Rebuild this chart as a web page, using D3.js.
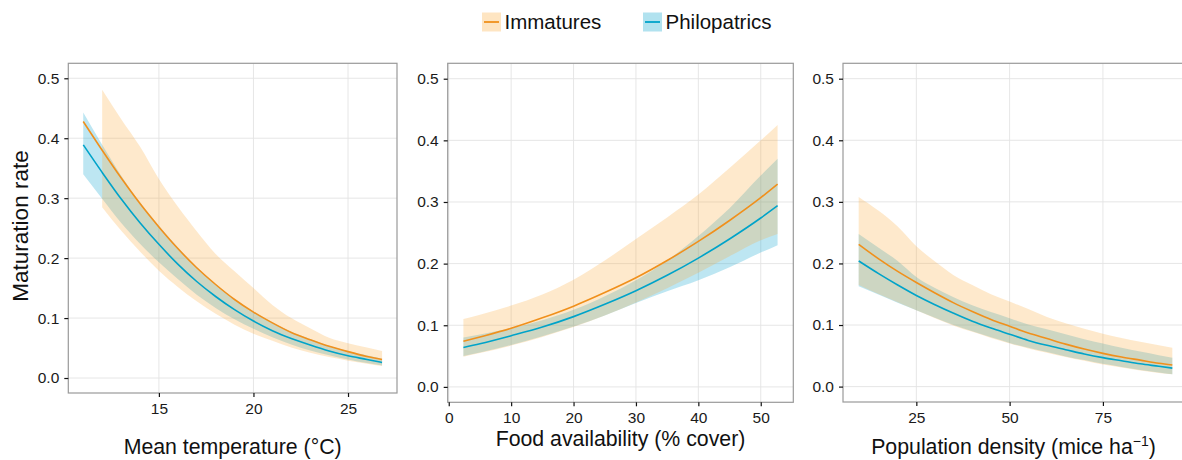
<!DOCTYPE html>
<html>
<head>
<meta charset="utf-8">
<script src="https://cdn.jsdelivr.net/npm/d3@7"></script>
<style>
body { margin: 0; background: #fff; }
svg { display: block; font-family: "Liberation Sans", Arial, Helvetica, sans-serif; }
</style>
</head>
<body>
<svg id="chart" width="1182" height="460"></svg>
<script>
// values
var seriesNames = ["Immatures", "Philopatrics"];
var rateTicks = [0, 0.1, 0.2, 0.3, 0.4, 0.5];

// mean temperature panel
var tempX      = [11, 12, 13, 14, 15, 16, 17, 18, 19, 20, 21, 22, 23, 24, 25, 26, 26.8];
var tempImmFit = [0.428, 0.380, 0.334, 0.291, 0.252, 0.216, 0.184, 0.156, 0.131, 0.110, 0.092, 0.076, 0.064, 0.053, 0.044, 0.036, 0.031];
var tempImmHi  = [null, 0.481, 0.432, 0.386, 0.332, 0.286, 0.245, 0.207, 0.178, 0.150, 0.122, 0.100, 0.083, 0.067, 0.058, 0.051, 0.045];
var tempImmLo  = [null, 0.285, 0.246, 0.211, 0.179, 0.152, 0.128, 0.107, 0.089, 0.074, 0.062, 0.051, 0.042, 0.035, 0.029, 0.024, 0.020];
var tempPhiFit = [0.389, 0.343, 0.299, 0.259, 0.223, 0.190, 0.161, 0.136, 0.114, 0.095, 0.079, 0.066, 0.055, 0.045, 0.037, 0.031, 0.026];
var tempPhiHi  = [0.443, 0.389, 0.338, 0.293, 0.254, 0.218, 0.185, 0.157, 0.132, 0.111, 0.093, 0.077, 0.065, 0.054, 0.045, 0.038, 0.032];
var tempPhiLo  = [0.340, 0.299, 0.259, 0.224, 0.193, 0.165, 0.139, 0.117, 0.098, 0.082, 0.068, 0.056, 0.046, 0.038, 0.031, 0.025, 0.021];
var tempTicks  = [15, 20, 25];

// food availability panel
var foodX      = [2.35, 5, 10, 15, 20, 25, 30, 35, 40, 45, 50, 52.7];
var foodImmFit = [0.074, 0.081, 0.095, 0.112, 0.131, 0.153, 0.177, 0.205, 0.236, 0.270, 0.307, 0.329];
var foodImmHi  = [0.110, 0.117, 0.132, 0.150, 0.174, 0.205, 0.240, 0.275, 0.312, 0.355, 0.400, 0.425];
var foodImmLo  = [0.049, 0.055, 0.067, 0.081, 0.097, 0.116, 0.137, 0.160, 0.185, 0.212, 0.238, 0.248];
var foodPhiFit = [0.064, 0.070, 0.083, 0.097, 0.114, 0.134, 0.156, 0.181, 0.209, 0.240, 0.274, 0.294];
var foodPhiHi  = [0.080, 0.085, 0.095, 0.108, 0.125, 0.147, 0.173, 0.205, 0.245, 0.290, 0.343, 0.370];
var foodPhiLo  = [0.050, 0.056, 0.068, 0.082, 0.098, 0.116, 0.136, 0.155, 0.173, 0.194, 0.218, 0.230];
var foodTicks  = [0, 10, 20, 30, 40, 50];

// population density panel
var densX      = [9.55, 15, 20, 25, 30, 35, 40, 45, 50, 55, 60, 65, 70, 75, 80, 85, 90, 93.6];
var densImmFit = [0.231, 0.207, 0.187, 0.169, 0.152, 0.136, 0.122, 0.109, 0.098, 0.087, 0.078, 0.069, 0.061, 0.054, 0.048, 0.043, 0.038, 0.035];
var densImmHi  = [0.308, 0.285, 0.260, 0.228, 0.203, 0.181, 0.165, 0.150, 0.138, 0.126, 0.113, 0.103, 0.094, 0.086, 0.079, 0.073, 0.067, 0.063];
var densImmLo  = [0.165, 0.150, 0.137, 0.124, 0.111, 0.099, 0.089, 0.079, 0.070, 0.062, 0.055, 0.048, 0.042, 0.036, 0.031, 0.026, 0.022, 0.020];
var densPhiFit = [0.204, 0.183, 0.165, 0.148, 0.133, 0.119, 0.106, 0.095, 0.085, 0.075, 0.067, 0.060, 0.053, 0.047, 0.042, 0.037, 0.033, 0.030];
var densPhiHi  = [0.248, 0.225, 0.204, 0.178, 0.160, 0.145, 0.132, 0.121, 0.111, 0.101, 0.093, 0.085, 0.077, 0.070, 0.063, 0.057, 0.051, 0.047];
var densPhiLo  = [0.163, 0.149, 0.136, 0.124, 0.112, 0.100, 0.090, 0.080, 0.071, 0.063, 0.056, 0.049, 0.043, 0.037, 0.032, 0.027, 0.023, 0.020];
var densTicks  = [25, 50, 75];

// colours
var lineColor = { "Immatures": "#f0901c", "Philopatrics": "#00a3c9" };
var bandColor = { "Immatures": "#fbab3a", "Philopatrics": "#12a6cf" };
var bandAlpha = { "Immatures": 0.26, "Philopatrics": 0.28 };

var svg = d3.select("#chart");

// ggplot style 5% expansion
function expand(ext) {
    var r = ext[1] - ext[0];
    return [ext[0] - r * 0.05, ext[1] + r * 0.05];
}

function zipRows(xs, fit, lo, hi) {
    return xs.map(function (x, i) {
        return { x: x, fit: fit[i], lo: lo[i], hi: hi[i] };
    });
}

var panels = [
    { id: "p1", left: 68.3, right: 397, top: 63.3, bottom: 393, titleY: 454,
      x: tempX, ticks: tempTicks, title: "Mean temperature (°C)",
      series: {
        "Immatures": zipRows(tempX, tempImmFit, tempImmLo, tempImmHi),
        "Philopatrics": zipRows(tempX, tempPhiFit, tempPhiLo, tempPhiHi) } },
    { id: "p2", left: 447.7, right: 793.3, top: 63.3, bottom: 402.3, titleY: 446,
      x: foodX, ticks: foodTicks, title: "Food availability (% cover)",
      series: {
        "Immatures": zipRows(foodX, foodImmFit, foodImmLo, foodImmHi),
        "Philopatrics": zipRows(foodX, foodPhiFit, foodPhiLo, foodPhiHi) } },
    { id: "p3", left: 843, right: 1188, top: 63.3, bottom: 402, titleY: 454,
      x: densX, ticks: densTicks, title: null,
      series: {
        "Immatures": zipRows(densX, densImmFit, densImmLo, densImmHi),
        "Philopatrics": zipRows(densX, densPhiFit, densPhiLo, densPhiHi) } }
];

panels.forEach(function (p) {
    var x = d3.scaleLinear().domain(expand(d3.extent(p.x))).range([p.left, p.right]);
    var y = d3.scaleLinear().domain(expand([0, 0.5])).range([p.bottom, p.top]);
    var g = svg.append("g").attr("class", "panel " + p.id);

    g.append("clipPath").attr("id", "clip-" + p.id)
        .append("rect")
        .attr("x", p.left).attr("y", p.top)
        .attr("width", p.right - p.left).attr("height", p.bottom - p.top);

    //gridlines
    g.selectAll(".gy").data(rateTicks).enter().append("line")
        .attr("x1", p.left).attr("x2", p.right)
        .attr("y1", function (d) { return y(d); })
        .attr("y2", function (d) { return y(d); })
        .attr("stroke", "#e3e3e3").attr("stroke-width", 0.9);
    g.selectAll(".gx").data(p.ticks).enter().append("line")
        .attr("y1", p.top).attr("y2", p.bottom)
        .attr("x1", function (d) { return x(d); })
        .attr("x2", function (d) { return x(d); })
        .attr("stroke", "#e3e3e3").attr("stroke-width", 0.9);

    var plot = g.append("g").attr("clip-path", "url(#clip-" + p.id + ")");

    var area = d3.area()
        .defined(function (d) { return d.lo != null && d.hi != null; })
        .x(function (d) { return x(d.x); })
        .y0(function (d) { return y(d.lo); })
        .y1(function (d) { return y(d.hi); })
        .curve(d3.curveMonotoneX);

    var line = d3.line()
        .x(function (d) { return x(d.x); })
        .y(function (d) { return y(d.fit); })
        .curve(d3.curveMonotoneX);

    // philopatric band first, immature band laid over it
    ["Philopatrics", "Immatures"].forEach(function (s) {
        plot.append("path")
            .datum(p.series[s])
            .attr("d", area)
            .attr("fill", bandColor[s])
            .attr("fill-opacity", bandAlpha[s]);
    });
    ["Philopatrics", "Immatures"].forEach(function (s) {
        plot.append("path")
            .datum(p.series[s])
            .attr("d", line)
            .attr("fill", "none")
            .attr("stroke", lineColor[s])
            .attr("stroke-width", 1.6);
    });

    g.append("rect")
        .attr("x", p.left).attr("y", p.top)
        .attr("width", p.right - p.left).attr("height", p.bottom - p.top)
        .attr("fill", "none").attr("stroke", "#9a9a9a").attr("stroke-width", 1.2);

    var yAxis = g.append("g")
        .attr("transform", "translate(" + p.left + ",0)")
        .call(d3.axisLeft(y).tickValues(rateTicks).tickSize(4).tickPadding(5).tickFormat(d3.format(".1f")));
    var xAxis = g.append("g")
        .attr("transform", "translate(0," + p.bottom + ")")
        .call(d3.axisBottom(x).tickValues(p.ticks).tickSize(4).tickPadding(6).tickFormat(d3.format("d")));

    [yAxis, xAxis].forEach(function (a) {
        a.select(".domain").remove();
        a.selectAll(".tick line").attr("stroke", "#111").attr("stroke-width", 1.2);
        a.selectAll(".tick text")
            .attr("fill", "#1a1a1a")
            .style("font-size", "15.5px")
            .style("font-family", "Liberation Sans, Arial, sans-serif");
    });

    var cx = (p.left + Math.min(p.right, 1182)) / 2;
    if (p.id == "p3") cx = (p.left + p.right) / 2 - 2;
    var t = g.append("text")
        .attr("x", cx).attr("y", p.titleY)
        .attr("text-anchor", "middle")
        .attr("fill", "#111")
        .style("font-size", "21.3px");
    if (p.title) {
        t.text(p.title);
    } else {
        t.append("tspan").text("Population density (mice ha");
        t.append("tspan").attr("dy", -8).style("font-size", "14px").text("\u22121");
        t.append("tspan").attr("dy", 8).text(")");
    }
});

// y axis title
svg.append("text")
    .attr("transform", "translate(28,226) rotate(-90)")
    .attr("text-anchor", "middle")
    .attr("fill", "#111")
    .style("font-size", "22.5px")
    .text("Maturation rate");

// legend
var legendX = [482, 643];
var legend = svg.append("g").attr("class", "legend");
seriesNames.forEach(function (s, i) {
    var lg = legend.append("g").attr("transform", "translate(" + legendX[i] + ",12.5)");
    lg.append("rect")
        .attr("width", 19).attr("height", 19)
        .attr("fill", bandColor[s]).attr("fill-opacity", bandAlpha[s] + 0.05);
    lg.append("line")
        .attr("x1", 2).attr("x2", 17).attr("y1", 9.5).attr("y2", 9.5)
        .attr("stroke", lineColor[s]).attr("stroke-width", 1.8);
    lg.append("text")
        .attr("x", 22.5).attr("y", 16.8)
        .attr("fill", "#111")
        .style("font-size", "20.5px")
        .text(s);
});
</script>
</body>
</html>
